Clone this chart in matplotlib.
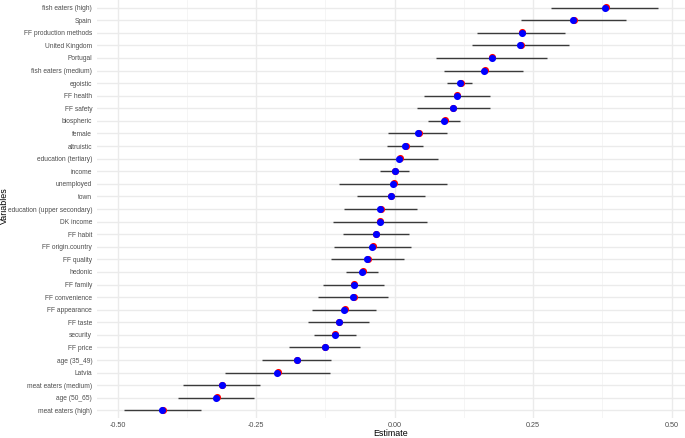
import matplotlib
matplotlib.use("Agg")
import matplotlib.pyplot as plt
import matplotlib.transforms as mtransforms
from matplotlib.ticker import FixedLocator

plt.rcParams['font.family'] = ['Liberation Sans', 'DejaVu Sans']

variables = [
    "fish eaters (high)", "Spain", "FF production methods", "United Kingdom",
    "Portugal", "fish eaters (medium)", "egoistic", "FF health", "FF safety",
    "biospheric", "female", "altruistic", "education (tertiary)", "income",
    "unemployed", "town", "education (upper secondary)", "DK income",
    "FF habit", "FF origin.country", "FF quality", "hedonic", "FF family",
    "FF convenience", "FF appearance", "FF taste", "security", "FF price",
    "age (35_49)", "Latvia", "meat eaters (medium)", "age (50_65)",
    "meat eaters (high)",
]
estimate = [
    0.380, 0.322, 0.229, 0.227, 0.175, 0.161, 0.118, 0.112, 0.105, 0.089,
    0.042, 0.019, 0.008, 0.000, -0.002, -0.007, -0.026, -0.027, -0.034,
    -0.040, -0.049, -0.058, -0.074, -0.075, -0.091, -0.101, -0.108, -0.126,
    -0.177, -0.212, -0.312, -0.322, -0.420,
]
ci_low = [
    0.282, 0.228, 0.149, 0.140, 0.074, 0.089, 0.095, 0.053, 0.040, 0.061,
    -0.012, -0.013, -0.064, -0.026, -0.100, -0.068, -0.091, -0.112, -0.093,
    -0.109, -0.114, -0.087, -0.130, -0.139, -0.149, -0.157, -0.146, -0.190,
    -0.240, -0.306, -0.381, -0.391, -0.489,
]
ci_high = [
    0.4755, 0.417, 0.308, 0.314, 0.275, 0.232, 0.140, 0.172, 0.172, 0.118,
    0.095, 0.052, 0.079, 0.026, 0.094, 0.055, 0.040, 0.058, 0.026,
    0.030, 0.017, -0.030, -0.019, -0.012, -0.034, -0.046, -0.070, -0.062,
    -0.114, -0.116, -0.242, -0.253, -0.350,
]
x_ticks = [-0.50, -0.25, 0.00, 0.25, 0.50]
x_tick_labels = ["-0.50", "-0.25", "0.00", "0.25", "0.50"]

n = len(variables)
ypos = [n - 1 - i for i in range(n)]

W, H = 685, 438
fig = plt.figure(figsize=(W / 100, H / 100), dpi=100)
ax = fig.add_axes([97 / W, 20 / H, 588 / W, 418 / H])

# grid
for v in [-0.375, -0.125, 0.125, 0.375]:
    ax.axvline(v, color="#F3F3F3", lw=0.55, zorder=0)
for v in x_ticks:
    ax.axvline(v, color="#EBEBEB", lw=1.0, zorder=0)
for y in ypos:
    ax.axhline(y, color="#EBEBEB", lw=1.0, zorder=0)

ax.hlines(ypos, ci_low, ci_high, color="#3a3a3a", lw=1.0, zorder=2)
off = mtransforms.offset_copy(ax.transData, fig=fig, x=0.7, y=0.5, units="dots")
ax.scatter(estimate, ypos, s=26, color="#FF0000", zorder=3, linewidths=0,
           transform=off)
ax.scatter(estimate, ypos, s=26, color="#0000FF", zorder=4, linewidths=0)

ax.set_xlim(-0.537, 0.524)
ax.set_ylim(-0.6, n - 1 + 0.6)
ax.set_yticks(ypos)
ax.set_yticklabels(variables)
ax.xaxis.set_major_locator(FixedLocator(x_ticks))
ax.set_xticklabels(x_tick_labels)
ax.tick_params(axis="both", length=0, labelsize=4.8, colors="#4D4D4D")
ax.tick_params(axis="x", labelsize=5.2)
ax.tick_params(axis="y", pad=3.5)
ax.tick_params(axis="x", pad=3.0)
for s in ax.spines.values():
    s.set_visible(False)

fig.text(391 / W, (H - 433.5) / H, "Estimate", fontsize=6.4, color="black",
         ha="center", va="center")
fig.text(4.8 / W, (H - 206) / H, "Variables", fontsize=6.4, color="black",
         ha="center", va="center", rotation=90)

fig.savefig("out.png", dpi=100)
